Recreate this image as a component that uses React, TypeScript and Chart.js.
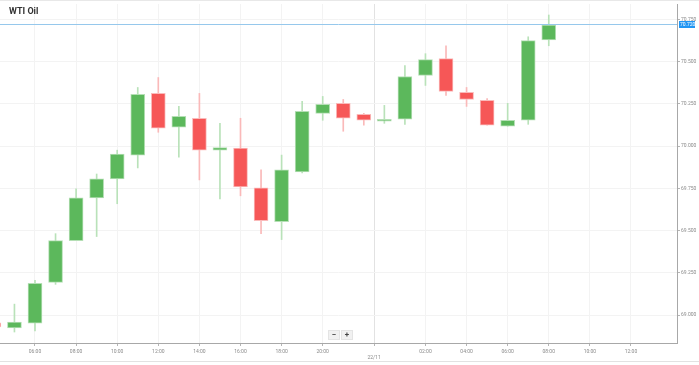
import React, { useEffect, useRef } from 'react';
import { Chart, registerables } from 'chart.js';

Chart.register(...registerables);

// hourly candles (index = position on the ordinal time axis)
const times = [
  '04:00', '05:00', '06:00', '07:00', '08:00', '09:00', '10:00', '11:00', '12:00', '13:00',
  '14:00', '15:00', '16:00', '17:00', '18:00', '19:00', '20:00', '21:00', '22:00',
  '00:00', '01:00', '02:00', '03:00', '04:00', '05:00', '06:00', '07:00', '08:00',
];
const opens = [
  68.955, 68.924, 68.953, 69.194, 69.441, 69.694, 69.806, 69.947, 70.312, 70.112,
  70.165, 69.976, 69.988, 69.753, 69.553, 69.847, 70.194, 70.253, 70.188,
  70.147, 70.159, 70.418, 70.518, 70.318, 70.271, 70.118, 70.153, 70.629,
];
const highs = [
  69.0, 69.065, 69.206, 69.482, 69.747, 69.835, 69.976, 70.347, 70.406, 70.235,
  70.312, 70.135, 70.165, 69.859, 69.947, 70.265, 70.294, 70.276, 70.194,
  70.241, 70.476, 70.547, 70.594, 70.347, 70.282, 70.253, 70.647, 70.776,
];
const lows = [
  68.9, 68.9, 68.906, 69.182, 69.44, 69.465, 69.659, 69.871, 70.082, 69.935,
  69.8, 69.688, 69.706, 69.482, 69.447, 69.841, 70.153, 70.088, 70.124,
  70.135, 70.129, 70.359, 70.3, 70.235, 70.124, 70.118, 70.129, 70.594,
];
const closes = [
  68.93, 68.959, 69.188, 69.441, 69.694, 69.806, 69.953, 70.306, 70.106, 70.176,
  69.976, 69.992, 69.759, 69.559, 69.859, 70.206, 70.247, 70.165, 70.153,
  70.159, 70.412, 70.512, 70.324, 70.276, 70.124, 70.153, 70.624, 70.716,
];

const xTickValues = [2, 4, 6, 8, 10, 12, 14, 16, 18.5, 21, 23, 25, 27, 29, 31];
const xTickLabels = [
  '06:00', '08:00', '10:00', '12:00', '14:00', '16:00', '18:00', '20:00', '22/11',
  '02:00', '04:00', '06:00', '08:00', '10:00', '12:00',
];
const yTickValues = [69.0, 69.25, 69.5, 69.75, 70.0, 70.25, 70.5, 70.75];
const currentPrice = 70.72;

const X_MIN = 0.297;
const X_MAX = 33.24;
const Y_MIN = 68.835;
const Y_MAX = 70.841;

const GREEN = 'rgb(92,184,92)';
const GREEN_EDGE = 'rgb(181,223,181)';
const GREEN_WICK = 'rgb(185,226,185)';
const RED = 'rgb(246,87,87)';
const RED_EDGE = 'rgb(250,186,186)';
const RED_WICK = 'rgb(250,185,185)';

const pricePlugin = {
  id: 'currentPrice',
  afterDatasetsDraw(chart: any) {
    const { ctx, chartArea, scales } = chart;
    const y = Math.round(scales.y.getPixelForValue(currentPrice)) + 0.5;
    ctx.save();
    ctx.strokeStyle = 'rgb(150,200,236)';
    ctx.lineWidth = 1;
    ctx.beginPath();
    ctx.moveTo(chartArea.left, y);
    ctx.lineTo(chartArea.right, y);
    ctx.stroke();
    ctx.fillStyle = 'rgb(33,150,243)';
    ctx.fillRect(chartArea.right + 2, y - 3.5, 16, 7);
    ctx.fillStyle = '#ffffff';
    ctx.font = '5px Roboto';
    ctx.textBaseline = 'middle';
    ctx.textAlign = 'left';
    ctx.fillText(currentPrice.toFixed(3), chartArea.right + 3, y + 0.5);
    ctx.restore();
  },
};

export default function App() {
  const ref = useRef<HTMLCanvasElement>(null);

  useEffect(() => {
    if (!ref.current) return;
    const up = closes.map((c, i) => c >= opens[i]);
    const bodyData = times.map((_, i) => ({ x: i, y: [opens[i], closes[i]] }));
    const wickData = times.map((_, i) => ({ x: i, y: [lows[i], highs[i]] }));

    const chart = new Chart(ref.current, {
      type: 'bar',
      data: {
        datasets: [
          {
            data: bodyData as any,
            backgroundColor: up.map((u) => (u ? GREEN : RED)),
            borderColor: up.map((u) => (u ? GREEN_EDGE : RED_EDGE)),
            borderWidth: 1,
            borderSkipped: false,
            barThickness: 14,
            grouped: false,
            order: 0,
          } as any,
          {
            data: wickData as any,
            backgroundColor: up.map((u) => (u ? GREEN_WICK : RED_WICK)),
            borderWidth: 0,
            barThickness: 1,
            grouped: false,
            order: 1,
          } as any,
        ],
      },
      options: {
        animation: false,
        responsive: false,
        devicePixelRatio: 1,
        layout: { padding: { top: 2, left: 0, right: 0, bottom: 0 } },
        plugins: {
          legend: { display: false },
          tooltip: { enabled: false },
          title: { display: false },
        },
        scales: {
          x: {
            type: 'linear',
            min: X_MIN,
            max: X_MAX,
            offset: false,
            afterBuildTicks: (s: any) => {
              s.ticks = xTickValues.map((v) => ({ value: v }));
            },
            afterFit: (s: any) => {
              s.height = 22;
            },
            ticks: {
              autoSkip: false,
              maxRotation: 0,
              padding: 3,
              color: '#8a8a8a',
              font: { size: 5, family: 'Roboto' },
              callback: (v: any) => {
                const idx = xTickValues.indexOf(Number(v));
                const lab = idx >= 0 ? xTickLabels[idx] : '';
                return lab === '22/11' ? ['', lab] : lab;
              },
            },
            grid: {
              offset: false,
              color: (ctx: any) =>
                ctx.tick && ctx.tick.value === 18.5 ? 'rgb(226,226,226)' : 'rgb(243,243,243)',
              tickColor: '#b5b5b5',
              tickLength: 3,
            },
            border: { display: true, color: '#a8a8a8' },
          } as any,
          y: {
            type: 'linear',
            position: 'right',
            min: Y_MIN,
            max: Y_MAX,
            afterBuildTicks: (s: any) => {
              s.ticks = yTickValues.map((v) => ({ value: v }));
            },
            afterFit: (s: any) => {
              s.width = 22;
            },
            ticks: {
              padding: 1,
              color: '#8a8a8a',
              font: { size: 5, family: 'Roboto' },
              callback: (v: any) => Number(v).toFixed(3),
            },
            grid: {
              offset: false,
              color: 'rgb(243,243,243)',
              tickColor: '#b5b5b5',
              tickLength: 3,
            },
            border: { display: true, color: '#a8a8a8' },
          } as any,
        },
      },
      plugins: [pricePlugin],
    });
    return () => chart.destroy();
  }, []);

  return (
    <div
      style={{
        position: 'fixed',
        left: 0,
        top: 0,
        width: 699,
        height: 365,
        background: '#ffffff',
        overflow: 'hidden',
      }}
    >
      <div style={{ position: 'absolute', left: 0, top: 0, width: 699, height: 1, background: '#e8e8e8' }} />
      <div style={{ position: 'absolute', left: 0, top: 361, width: 699, height: 1, background: '#e2e2e2' }} />
      <canvas
        ref={ref}
        width={699}
        height={365}
        style={{ position: 'absolute', left: 0, top: 0, width: 699, height: 365 }}
      />
      <div
        style={{
          position: 'absolute',
          left: 9,
          top: 6,
          font: 'bold 9px Roboto',
          color: '#333333',
          lineHeight: '10px',
        }}
      >
        WTI Oil
      </div>
      <div style={{ position: 'absolute', left: 328, top: 330, display: 'flex', gap: 1 }}>
        {['−', '+'].map((s) => (
          <div
            key={s}
            style={{
              width: 10,
              height: 8,
              background: '#f1f1f1',
              border: '0.5px solid #e4e4e4',
              font: 'bold 8px Roboto',
              color: '#444',
              lineHeight: '8px',
              textAlign: 'center',
            }}
          >
            {s}
          </div>
        ))}
      </div>
    </div>
  );
}
